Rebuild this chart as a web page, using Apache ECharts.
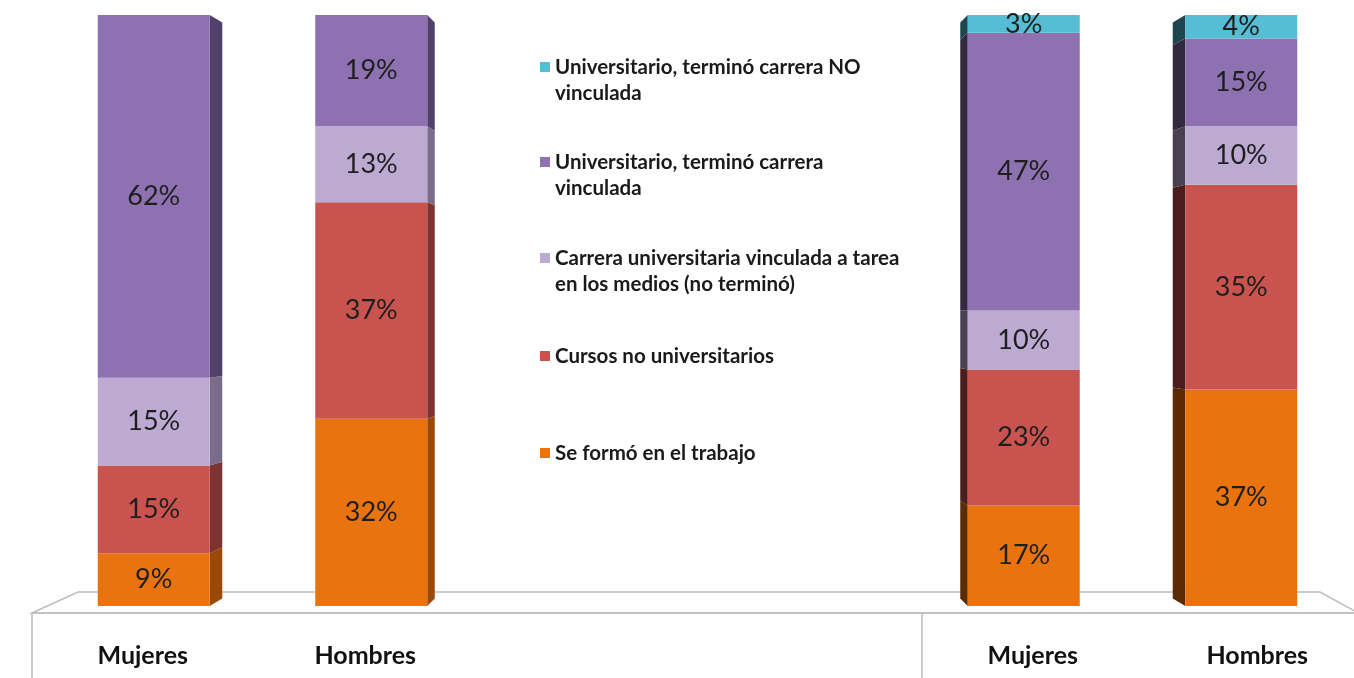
<!DOCTYPE html>
<html>
<head>
<meta charset="utf-8">
<script src="https://cdn.jsdelivr.net/npm/echarts@6/dist/echarts.min.js"></script>
<style>
  html, body { margin: 0; padding: 0; background: #fff; }
  #chart { width: 1354px; height: 678px; }
</style>
</head>
<body>
<div id="chart"></div>
<script>
// categories: two groups, two empty slots in the middle (legend sits there)
const categoryKeys = ["Mujeres A", "Hombres A", "vacio 1", "vacio 2", "Mujeres B", "Hombres B"];
const tickLabels = ["Mujeres", "Hombres", "", "", "Mujeres", "Hombres"];

// percentages as printed on the bars (bottom to top)
const seFormo = [9, 32, null, null, 17, 37];
const cursos = [15, 37, null, null, 23, 35];
const carreraNoTermino = [15, 13, null, null, 10, 10];
const terminoVinculada = [62, 19, null, null, 47, 15];
const terminoNoVinculada = [null, null, null, null, 3, 4];

const seriesNames = [
  "Se formó en el trabajo",
  "Cursos no universitarios",
  "Carrera universitaria vinculada a tarea\nen los medios (no terminó)",
  "Universitario, terminó carrera\nvinculada",
  "Universitario, terminó carrera NO\nvinculada"
];

const layers = [seFormo, cursos, carreraNoTermino, terminoVinculada, terminoNoVinculada];
const faceColors = ["#e8730f", "#c9544f", "#bcaad2", "#8d71b0", "#56bdd5"];
const sideColorsLeft = ["#9a4a08", "#7c3432", "#7a6d8a", "#51406a", "#2a6a7a"];
const sideColorsRight = ["#5a2b05", "#4a1c1b", "#4a4150", "#33283f", "#1d4650"];

const FONT = "Lato";
const BAR_W = 112;

// 100% stacked: normalise each column by its total
const totals = categoryKeys.map((_, i) =>
  layers.reduce((s, arr) => s + (arr[i] || 0), 0)
);

const barSeries = layers.map((arr, L) => ({
  name: seriesNames[L],
  type: "bar",
  stack: "total",
  barWidth: BAR_W,
  itemStyle: { color: faceColors[L] },
  label: {
    show: true,
    position: "inside",
    color: "#1e1e1e",
    fontFamily: FONT,
    fontSize: 27,
    formatter: (p) => (p.data && p.data.raw != null ? p.data.raw + "%" : "")
  },
  data: arr.map((v, i) =>
    v == null ? null : { value: (v / totals[i]) * 100, raw: v }
  )
}));

// side faces of the pseudo-3D columns
const sideData = [];
categoryKeys.forEach((_, i) => {
  let cum = 0;
  layers.forEach((arr, L) => {
    const v = arr[i];
    if (v == null) return;
    const h = (v / totals[i]) * 100;
    sideData.push([i, cum, cum + h, L]);
    cum += h;
  });
});

const sideSeries = {
  type: "custom",
  silent: true,
  z: 1,
  encode: { x: 0, y: [1, 2] },
  data: sideData,
  renderItem: (params, api) => {
    const ci = api.value(0);
    const L = api.value(3);
    const b = api.coord([ci, api.value(1)]);
    const t = api.coord([ci, api.value(2)]);
    const cs = params.coordSys;
    const midX = cs.x + cs.width / 2;
    const vy = cs.y + cs.height / 2;
    const cx = b[0];
    const onRight = cx < midX;
    const w = Math.abs(cx - midX) * 0.023;
    const edge = onRight ? cx + BAR_W / 2 : cx - BAR_W / 2;
    const far = onRight ? edge + w : edge - w;
    const fy = (y) => vy + (y - vy) * 0.975;
    return {
      type: "polygon",
      shape: { points: [[edge, t[1]], [far, fy(t[1])], [far, fy(b[1])], [edge, b[1]]] },
      style: { fill: onRight ? sideColorsLeft[L] : sideColorsRight[L] }
    };
  }
};

// one legend per entry so the entries keep even spacing like the original
const legendTops = [49, 144, 240, 338, 435];
const legendOrder = [4, 3, 2, 1, 0];
const legends = legendOrder.map((L, k) => {
  const twoLines = seriesNames[L].indexOf("\n") >= 0;
  return {
    data: [seriesNames[L]],
    left: 535,
    top: legendTops[k],
    orient: "vertical",
    selectedMode: false,
    icon: twoLines ? "path://M0,0h10v10h-10zM0,36h10" : "rect",
    itemWidth: 10,
    itemHeight: twoLines ? 36 : 10,
    textStyle: {
      fontFamily: FONT,
      fontWeight: "bold",
      fontSize: 20.5,
      lineHeight: 26,
      color: "#1a1a1a"
    }
  };
});

// x labels sit a little off the bar centres (perspective of the original)
const labelRich = {
  l0: { padding: [0, 22, 0, 0] },
  l1: { padding: [0, 12, 0, 0] },
  l4: { padding: [0, 0, 0, 18] },
  l5: { padding: [0, 0, 0, 32] }
};

const chart = echarts.init(document.getElementById("chart"));
chart.setOption({
  animation: false,
  backgroundColor: "#ffffff",
  grid: { left: 45, right: 4, top: 15, bottom: 72 },
  legend: legends,
  xAxis: {
    type: "category",
    data: categoryKeys,
    axisLine: { show: false },
    axisTick: { show: false },
    axisLabel: {
      margin: 37,
      fontFamily: FONT,
      fontWeight: "bold",
      fontSize: 25,
      color: "#111",
      rich: Object.fromEntries(Object.entries(labelRich).map(([k, v]) => [k, Object.assign({
        fontFamily: FONT, fontWeight: "bold", fontSize: 25, color: "#111"
      }, v)])),
      formatter: (val, idx) => tickLabels[idx] ? "{l" + idx + "|" + tickLabels[idx] + "}" : ""
    }
  },
  yAxis: {
    type: "value",
    min: 0,
    max: 100,
    show: false,
    splitLine: { show: false }
  },
  graphic: [
    {
      type: "polygon",
      z: 0,
      shape: { points: [[32, 613], [78, 592], [1320, 592], [1380, 625], [1354, 613]] },
      style: { fill: "#ffffff", stroke: "#bdbdbd", lineWidth: 1.5 }
    },
    {
      type: "line",
      shape: { x1: 32, y1: 613, x2: 1354, y2: 613 },
      style: { stroke: "#bdbdbd", lineWidth: 1.5 }
    },
    {
      type: "line",
      shape: { x1: 32, y1: 613, x2: 32, y2: 678 },
      style: { stroke: "#bdbdbd", lineWidth: 1.5 }
    },
    {
      type: "line",
      shape: { x1: 922, y1: 613, x2: 922, y2: 678 },
      style: { stroke: "#bdbdbd", lineWidth: 1.5 }
    }
  ],
  series: barSeries.concat([sideSeries])
});
</script>
</body>
</html>
